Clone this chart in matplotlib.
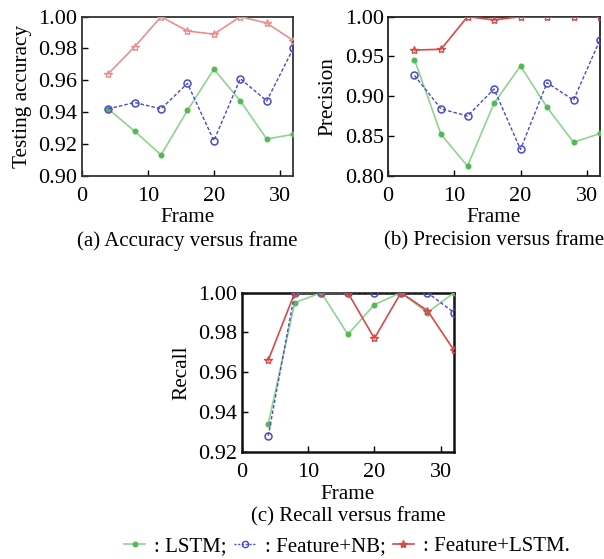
import matplotlib
matplotlib.use("Agg")
import matplotlib.pyplot as plt
from matplotlib.lines import Line2D

frames = [4, 8, 12, 16, 20, 24, 28, 32]

acc_lstm = [0.942, 0.928, 0.913, 0.941, 0.967, 0.947, 0.923, 0.926]
acc_nb = [0.942, 0.946, 0.942, 0.958, 0.922, 0.961, 0.947, 0.980]
acc_flstm = [0.964, 0.981, 1.000, 0.991, 0.989, 1.000, 0.996, 0.985]

pre_lstm = [0.946, 0.852, 0.812, 0.891, 0.938, 0.886, 0.842, 0.853]
pre_nb = [0.926, 0.884, 0.875, 0.909, 0.833, 0.917, 0.895, 0.971]
pre_flstm = [0.958, 0.959, 1.000, 0.996, 1.000, 1.000, 1.000, 1.000]

rec_lstm = [0.934, 0.995, 1.000, 0.979, 0.994, 1.000, 0.990, 1.000]
rec_nb = [0.928, 1.000, 1.000, 1.000, 1.000, 1.000, 1.000, 0.990]
rec_flstm = [0.966, 1.000, 1.000, 1.000, 0.977, 1.000, 0.991, 0.971]

xticks = [0, 10, 20, 30]
acc_yticks = [0.90, 0.92, 0.94, 0.96, 0.98, 1.00]
pre_yticks = [0.80, 0.85, 0.90, 0.95, 1.00]
rec_yticks = [0.92, 0.94, 0.96, 0.98, 1.00]

legend_labels = [": LSTM;", ": Feature+NB;", ": Feature+LSTM."]

plt.rcParams['font.family'] = ['Liberation Serif', 'DejaVu Serif']

W, H = 604, 559
fig = plt.figure(figsize=(W / 100, H / 100), dpi=100)

GREEN_L = '#8fd48f'
GREEN_M = '#55b855'
BLUE = '#4a4ac8'
RED_D = '#d84848'
RED_L = '#e89090'

FS_TICK = 16
FS_LAB = 15.3
FS_CAP = 15

def draw(ax, lstm, nb, flstm, yticks, ylabel, caption, red, spine_lw, spine_c):
    ax.plot(frames, lstm, color=GREEN_L, lw=1.2, marker='o', ms=3.3,
            mfc=GREEN_M, mec=GREEN_M, zorder=3)
    ax.plot(frames, nb, color=BLUE, lw=1.0, ls=(0, (2.5, 1.5)), marker='o', ms=5,
            mfc='none', mec=BLUE, mew=1.1, zorder=3)
    ax.plot(frames, flstm, color=red, lw=1.2, marker='*', ms=6,
            mfc='none', mec=red, mew=1.0, zorder=4)
    ax.set_xlim(0, 32)
    ax.set_ylim(yticks[0], yticks[-1])
    ax.set_xticks(xticks)
    ax.set_yticks(yticks)
    ax.set_yticklabels([f"{v:.2f}" for v in yticks])
    ax.tick_params(direction='in', length=4, width=1, labelsize=FS_TICK,
                   top=False, right=False)
    ax.tick_params(axis='x', pad=8)
    ax.tick_params(axis='y', pad=3)
    for s in ax.spines.values():
        s.set_linewidth(spine_lw)
        s.set_color(spine_c)
    ax.set_xlabel("Frame", fontsize=FS_LAB, labelpad=2)
    ax.set_ylabel(ylabel, fontsize=FS_LAB, labelpad=5)
    ax.text(0.5, -0.41, caption, transform=ax.transAxes, ha='center',
            va='center', fontsize=FS_CAP, clip_on=False)

ax1 = fig.add_axes([81.7 / W, 1 - 175.6 / H, 211.5 / W, 158.9 / H])
draw(ax1, acc_lstm, acc_nb, acc_flstm, acc_yticks, "Testing accuracy",
     "(a) Accuracy versus frame", RED_L, 1.3, '#333333')

ax2 = fig.add_axes([388 / W, 1 - 175.6 / H, 212 / W, 158.9 / H])
draw(ax2, pre_lstm, pre_nb, pre_flstm, pre_yticks, "Precision",
     "(b) Precision versus frame", RED_D, 1.3, '#222222')

ax3 = fig.add_axes([241.7 / W, 1 - 451.7 / H, 212.3 / W, 159 / H])
draw(ax3, rec_lstm, rec_nb, rec_flstm, rec_yticks, "Recall",
     "(c) Recall versus frame", RED_D, 1.8, '#111111')

handles = [
    Line2D([], [], color=GREEN_L, lw=1.2, marker='o', ms=3.3, mfc=GREEN_M, mec=GREEN_M),
    Line2D([], [], color=BLUE, lw=1.0, ls=(0, (1.5, 1.2)), marker='o', ms=4.5, mfc='none', mec=BLUE),
    Line2D([], [], color=RED_D, lw=1.2, marker='*', ms=6, mfc=RED_D, mec=RED_D),
]
fig.legend(handles, legend_labels, loc='center', bbox_to_anchor=(347 / W, 1 - 546 / H),
           ncol=3, frameon=False, fontsize=FS_CAP, handlelength=1.0,
           handletextpad=0.45, columnspacing=0.35, borderpad=0)

fig.savefig("out.png", dpi=100)
